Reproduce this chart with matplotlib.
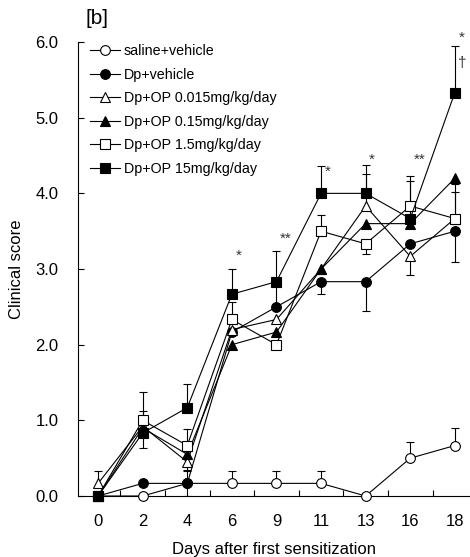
import numpy as np
import matplotlib.pyplot as plt

plt.rcParams['font.family'] = ['Liberation Sans', 'DejaVu Sans']

days = ["0", "2", "4", "6", "9", "11", "13", "16", "18"]

labels = ["saline+vehicle", "Dp+vehicle", "Dp+OP 0.015mg/kg/day",
          "Dp+OP 0.15mg/kg/day", "Dp+OP 1.5mg/kg/day", "Dp+OP 15mg/kg/day"]

# mean clinical score
saline = [0, 0, 0.167, 0.167, 0.167, 0.167, 0, 0.5, 0.667]
dp_veh = [0, 0.167, 0.167, 2.167, 2.5, 2.833, 2.833, 3.333, 3.5]
op_0015 = [0.167, 0.92, 0.45, 2.2, 2.333, 3.0, 3.833, 3.167, 3.667]
op_015 = [0, 0.9, 0.55, 2.0, 2.167, 3.0, 3.6, 3.6, 4.2]
op_15 = [0, 1.0, 0.667, 2.333, 2.0, 3.5, 3.333, 3.833, 3.667]
op_150 = [0, 0.833, 1.167, 2.667, 2.833, 4.0, 4.0, 3.667, 5.333]

# error bars (lower, upper), only one side drawn per point
saline_lo = [0, 0, 0, 0, 0, 0, 0, 0, 0]
saline_up = [0, 0, 0.167, 0.167, 0.167, 0.167, 0, 0.22, 0.23]
dp_veh_lo = [0, 0, 0.167, 0, 0, 0.16, 0.39, 0, 0.41]
dp_veh_up = [0, 0, 0, 0, 0.3, 0, 0, 0, 0]
op_0015_lo = [0, 0, 0.1, 0, 0, 0, 0, 0.24, 0]
op_0015_up = [0.167, 0, 0, 0, 0, 0, 0.42, 0, 0.46]
op_015_lo = [0, 0, 0, 0, 0, 0, 0, 0, 0]
op_015_up = [0, 0.22, 0, 0, 0, 0, 0, 0, 0]
op_15_lo = [0, 0, 0, 0, 0, 0, 0.13, 0, 0]
op_15_up = [0, 0.37, 0.22, 0.23, 0, 0.22, 0, 0.4, 0.35]
op_150_lo = [0, 0.2, 0, 0, 0, 0, 0, 0, 0]
op_150_up = [0, 0, 0.31, 0.33, 0.4, 0.36, 0.37, 0.5, 0.62]

# significance marks: (day index, y, text)
sig_pos = [3, 4, 5, 6, 7, 8, 8]
sig_y = [3.18, 3.4, 4.28, 4.44, 4.44, 6.06, 5.72]
sig_txt = ["*", "**", "*", "*", "**", "*", "\u2020"]

series = [
    (saline, saline_lo, saline_up, "o", "white"),
    (dp_veh, dp_veh_lo, dp_veh_up, "o", "black"),
    (op_0015, op_0015_lo, op_0015_up, "^", "white"),
    (op_015, op_015_lo, op_015_up, "^", "black"),
    (op_15, op_15_lo, op_15_up, "s", "white"),
    (op_150, op_150_lo, op_150_up, "s", "black"),
]

fig = plt.figure(figsize=(4.7, 5.57), dpi=100)
ax = fig.add_axes([0.166, 0.1095, 0.834, 0.815])

x = np.arange(len(days))
handles = []
for (y, lo, up, mk, fc), lab in zip(series, labels):
    y = np.array(y)
    lo = np.array(lo)
    up = np.array(up)
    ax.vlines(x, y - lo, y + up, color="black", lw=0.8, zorder=2)
    m = up > 0
    ax.plot(x[m], (y + up)[m], ls="none", marker="_", ms=6, mew=0.8,
            color="black", zorder=2)
    m = lo > 0
    ax.plot(x[m], (y - lo)[m], ls="none", marker="_", ms=6, mew=0.8,
            color="black", zorder=2)
    ms = {"^": 7.5, "s": 7.8, "o": 7}[mk]
    h, = ax.plot(x, y, color="black", lw=0.8, marker=mk, ms=ms, mfc=fc,
                 mec="black", mew=0.8, clip_on=False, zorder=3, label=lab)
    handles.append(h)

for p, yy, t in zip(sig_pos, sig_y, sig_txt):
    ax.text(p + 0.08, yy, t, fontsize=11, color="#333333", ha="left", va="center")

ax.set_xlim(-0.45, 8.34)
ax.set_ylim(0, 6)
ax.set_xticks(x)
ax.set_xticklabels(days)
ax.set_xticks(x[:-1] + 0.5, minor=True)
ax.set_yticks(np.arange(0, 7))
ax.set_yticklabels(["%.1f" % v for v in np.arange(0, 7)])
ax.tick_params(axis="x", which="major", length=0, pad=13, labelsize=12)
ax.tick_params(axis="x", which="minor", direction="in", length=4, width=0.8)
ax.tick_params(axis="y", direction="in", length=4, width=0.8, pad=14, labelsize=12)

ax.spines["top"].set_visible(False)
ax.spines["right"].set_visible(False)
ax.spines["left"].set_linewidth(0.8)
ax.spines["bottom"].set_linewidth(0.8)

ax.set_xlabel("Days after first sensitization", fontsize=12, labelpad=9)
ax.set_ylabel("Clinical score", fontsize=12, labelpad=8)

ax.legend(handles=handles, loc="upper left", bbox_to_anchor=(0.03, 0.995),
          frameon=False, fontsize=10.3, handlelength=2.1, handletextpad=0.28,
          labelspacing=0.66, borderaxespad=0, borderpad=0)

fig.text(0.181, 0.967, "[b]", fontsize=15, ha="left", va="center")

fig.savefig("out.png", dpi=100)
